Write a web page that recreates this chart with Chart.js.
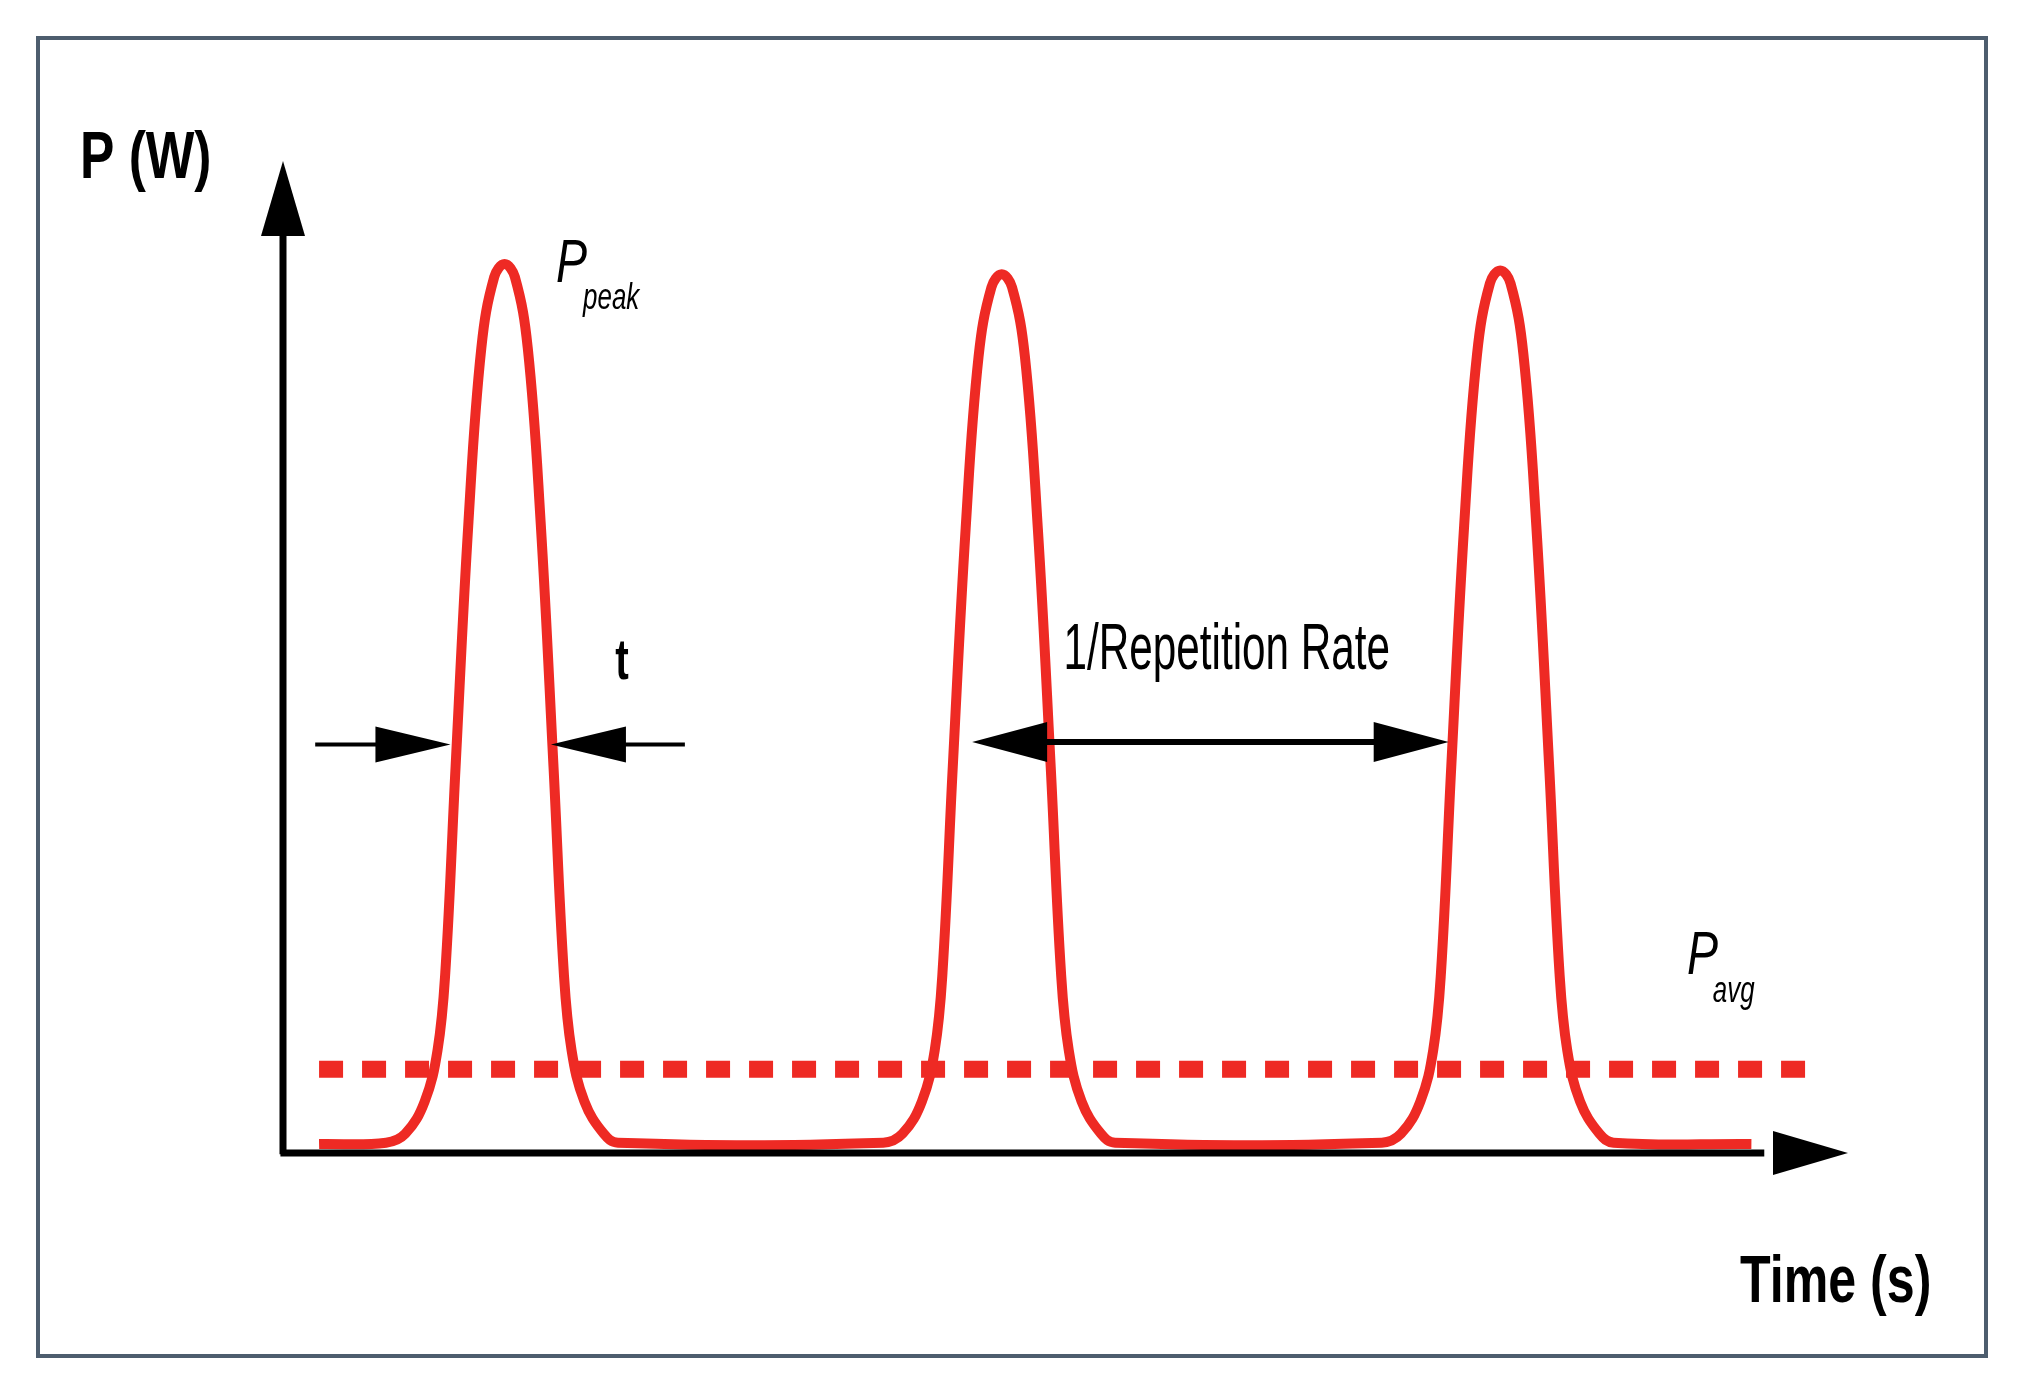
<!DOCTYPE html>
<html>
<head>
<meta charset="utf-8">
<script src="https://cdn.jsdelivr.net/npm/chart.js@4.4.1/dist/chart.umd.min.js"></script>
<style>
  html, body { margin: 0; padding: 0; background: #fff; }
  #frame { position: absolute; left: 36px; top: 36px; width: 1952px; height: 1322px;
           border: 4px solid #4d5d6e; box-sizing: border-box; }
  canvas { position: absolute; left: 0; top: 0; }
</style>
</head>
<body>
<div id="frame"></div>
<canvas id="pulseChart" width="2020" height="1388"></canvas>
<script>
// Pulse train (arbitrary time units, power units)
const pulseX = [2.8, 8.0, 9.5, 11.0, 12.0, 12.6, 13.4, 14.4, 15.4, 16.4, 17.2, 18.0, 19.0, 20.0, 21.0, 21.8, 22.4, 23.4, 24.9, 26.0,
  46.6, 48.1, 49.6, 50.6, 51.2, 52.0, 53.0, 54.0, 55.0, 55.8, 56.6, 57.6, 58.6, 59.6, 60.4, 61.0, 62.0, 63.5, 64.6,
  85.3, 86.8, 88.3, 89.3, 89.9, 90.7, 91.7, 92.7, 93.7, 94.5, 95.3, 96.3, 97.3, 98.3, 99.1, 99.7, 100.7, 102.2, 103.3, 114.0];
const pulseY = [0.7, 0.8, 1.5, 4.0, 8.0, 14.0, 30.0, 49.0, 62.5, 68.0, 69.0, 68.0, 62.5, 49.0, 30.0, 14.0, 8.0, 4.0, 1.5, 0.8,
  0.8, 1.5, 4.0, 8.0, 14.0, 30.0, 48.5, 61.8, 67.2, 68.2, 67.2, 61.8, 48.5, 30.0, 14.0, 8.0, 4.0, 1.5, 0.8,
  0.8, 1.5, 4.0, 8.0, 14.0, 30.0, 48.7, 62.0, 67.5, 68.5, 67.5, 62.0, 48.7, 30.0, 14.0, 8.0, 4.0, 1.5, 0.8, 0.7];
const avgX = [2.8, 119.0];
const avgY = [6.5, 6.5];

const red = '#ee2a24';

// axes with arrow heads and annotations drawn through the scales
const decorPlugin = {
  id: 'decor',
  afterDraw(chart) {
    const ctx = chart.ctx;
    const xs = chart.scales.x, ys = chart.scales.y;
    const X = v => xs.getPixelForValue(v), Y = v => ys.getPixelForValue(v);
    ctx.save();
    ctx.fillStyle = '#000';
    ctx.strokeStyle = '#000';

    function head(x, y, dir, len, half) {
      ctx.beginPath();
      if (dir === 'r') { ctx.moveTo(x, y); ctx.lineTo(x - len, y - half); ctx.lineTo(x - len, y + half); }
      if (dir === 'l') { ctx.moveTo(x, y); ctx.lineTo(x + len, y - half); ctx.lineTo(x + len, y + half); }
      if (dir === 'u') { ctx.moveTo(x, y); ctx.lineTo(x - half, y + len); ctx.lineTo(x + half, y + len); }
      ctx.closePath();
      ctx.fill();
    }

    // axes
    ctx.lineWidth = 7;
    ctx.beginPath();
    ctx.moveTo(X(0), Y(-0.1));
    ctx.lineTo(X(0), Y(74));
    ctx.moveTo(X(-0.2), Y(0));
    ctx.lineTo(X(115), Y(0));
    ctx.stroke();
    head(X(0), Y(77), 'u', 75, 22);
    head(X(121.5), Y(0), 'r', 75, 22);

    // pulse width arrows
    const ya = Y(31.7);
    ctx.lineWidth = 4;
    ctx.beginPath();
    ctx.moveTo(X(2.5), ya); ctx.lineTo(X(8), ya);
    ctx.moveTo(X(26), ya); ctx.lineTo(X(31.2), ya);
    ctx.stroke();
    head(X(13.0), ya, 'r', 75, 18);
    head(X(20.8), ya, 'l', 75, 18);

    // repetition period arrow
    const yb = Y(31.9);
    ctx.lineWidth = 6;
    ctx.beginPath();
    ctx.moveTo(X(58), yb); ctx.lineTo(X(86), yb);
    ctx.stroke();
    head(X(53.5), yb, 'l', 75, 20);
    head(X(90.5), yb, 'r', 75, 20);

    // labels, horizontally condensed
    const fam = "'Liberation Sans', 'DejaVu Sans', sans-serif";
    function txt(s, x, y, font, sx) {
      ctx.save();
      ctx.font = font + ' ' + fam;
      ctx.translate(x, y);
      ctx.scale(sx, 1);
      ctx.fillText(s, 0, 0);
      ctx.restore();
    }
    ctx.textBaseline = 'alphabetic';
    ctx.textAlign = 'left';
    txt('P (W)', 80, 178, 'bold 66px', 0.78);
    txt('Time (s)', 1740, 1302, 'bold 66px', 0.76);
    txt('1/Repetition Rate', X(60.6), Y(37.6), '64px', 0.66);
    txt('t', X(25.8), Y(36.8), 'bold 58px', 0.7);
    txt('P', X(21.2), Y(67.6), 'italic 62px', 0.75);
    txt('peak', X(23.3), Y(65.5), 'italic 36px', 0.72);
    txt('P', X(109.0), Y(13.9), 'italic 62px', 0.75);
    txt('avg', X(111.0), Y(11.7), 'italic 36px', 0.72);
    ctx.restore();
  }
};

new Chart(document.getElementById('pulseChart'), {
  type: 'line',
  data: {
    datasets: [{
      data: pulseX.map((x, i) => ({ x: x, y: pulseY[i] })),
      borderColor: red,
      borderWidth: 10,
      pointRadius: 0,
      tension: 0.4,
      fill: false
    }, {
      data: avgX.map((x, i) => ({ x: x, y: avgY[i] })),
      borderColor: red,
      borderWidth: 17,
      borderDash: [24, 19],
      borderCapStyle: 'butt',
      pointRadius: 0,
      fill: false
    }]
  },
  options: {
    responsive: false,
    animation: false,
    layout: { padding: { left: 283, right: 172, top: 161, bottom: 235 } },
    plugins: { legend: { display: false }, tooltip: { enabled: false } },
    scales: {
      x: { type: 'linear', min: 0, max: 121.5, display: false },
      y: { type: 'linear', min: 0, max: 77, display: false }
    }
  },
  plugins: [decorPlugin]
});
</script>
</body>
</html>
